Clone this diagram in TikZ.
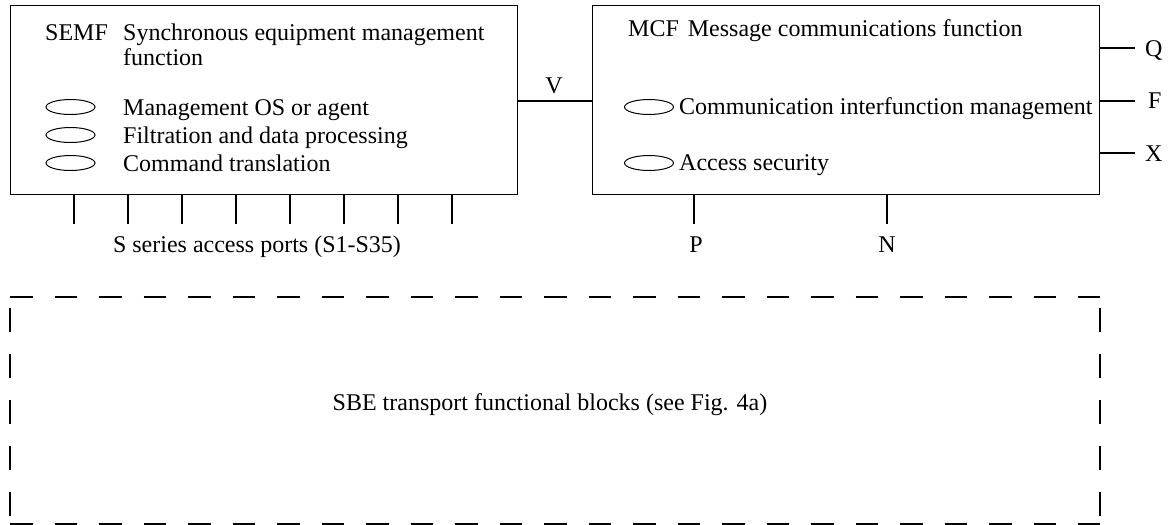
\documentclass[tikz,border=0pt]{standalone}
\usepackage{fontspec}
\setmainfont{Liberation Serif}
\usetikzlibrary{shapes.geometric}
\begin{document}
\begin{tikzpicture}[x=1pt,y=-1pt,
  box/.style={draw, line width=1.1pt, minimum width=507pt, minimum height=189pt, inner sep=0pt, anchor=north west},
  oval/.style={draw, ellipse, line width=1pt, minimum width=49pt, minimum height=15pt, inner sep=0pt},
  txt/.style={anchor=base west, inner sep=0pt, font=\fontsize{24}{28}\selectfont},
  ctxt/.style={anchor=base, inner sep=0pt, font=\fontsize{24}{28}\selectfont},
  wire/.style={line width=1.1pt},
  hdsh/.style={line width=2.4pt, dash pattern=on 22.5pt off 22pt},
  vdsh/.style={line width=2.4pt, dash pattern=on 23.5pt off 22.5pt}]
\useasboundingbox (0,0) rectangle (1171,525);

% main boxes
\node[box] (semf) at (10,5) {};
\node[box] (mcf) at (592,5) {};

% SEMF contents
\node[txt] (semfa) at (45,40) {SEMF};
\node[txt] (semfb) at (123,40) {Synchronous equipment management};
\node[txt] (semfc) at (123,65) {function};
\node[oval] (o1) at (70.5,107) {};
\node[oval] (o2) at (70.5,135) {};
\node[oval] (o3) at (70.5,163) {};
\node[txt] (t1) at (123,115) {Management OS or agent};
\node[txt] (t2) at (123,143) {Filtration and data processing};
\node[txt] (t3) at (123,171) {Command translation};

% MCF contents
\node[txt] (mcfa) at (628,36) {MCF\hspace{9pt}Message communications function};
\node[oval] (o4) at (649,107) {};
\node[oval] (o5) at (649,163) {};
\node[txt] (t4) at (679,114) {Communication interfunction management};
\node[txt] (t5) at (679,170) {Access security};

% S ports
\foreach \i in {0,...,7} {
  \coordinate (p\i) at ({74+54*\i},224);
  \draw[wire] (semf.south -| p\i) -- (p\i);
}
\node[ctxt] (slab) at (257,252) {S series access ports (S1-S35)};

% V
\coordinate (vv) at (0,101);
\draw[wire] (semf.east |- vv) -- (mcf.west |- vv);
\node[ctxt] (vlab) at (554,93) {V};

% Q F X
\coordinate (q) at (1135,48);
\coordinate (f) at (1135,101);
\coordinate (x) at (1135,153);
\draw[wire] (mcf.east |- q) -- (q);
\draw[wire] (mcf.east |- f) -- (f);
\draw[wire] (mcf.east |- x) -- (x);
\node[txt] (qlab) at (1145,56) {Q};
\node[txt] (flab) at (1148,108) {F};
\node[txt] (xlab) at (1145,161) {X};

% P N
\coordinate (p) at (694,224);
\coordinate (n) at (887,224);
\draw[wire] (mcf.south -| p) -- (p);
\draw[wire] (mcf.south -| n) -- (n);
\node[ctxt] (plab) at (696,252) {P};
\node[ctxt] (nlab) at (887,252) {N};

% dashed SBE box
\coordinate (tl) at (10,297);
\coordinate (tr) at (1100,297);
\coordinate (bl) at (10,524);
\coordinate (br) at (1100,524);
\draw[hdsh] (tl) -- (tr);
\draw[hdsh] (bl) -- (br);
\draw[vdsh] ([yshift=-11pt]tl) -- ([yshift=8.5pt]bl);
\draw[vdsh] ([yshift=-11pt]tr) -- ([yshift=8.5pt]br);
\node[ctxt] (sbe) at (550,410) {SBE transport functional blocks (see Fig. 4a)};
\end{tikzpicture}
\end{document}
